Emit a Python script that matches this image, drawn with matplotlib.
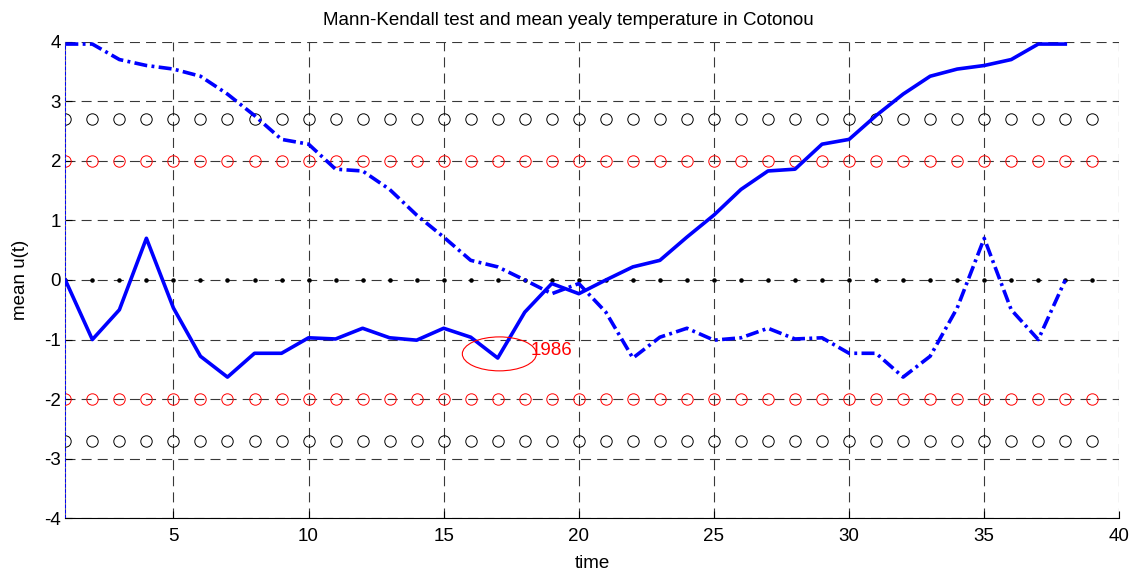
import matplotlib
matplotlib.use("Agg")
import matplotlib.pyplot as plt
from matplotlib.patches import Ellipse
import numpy as np

plt.rcParams['font.family'] = ['Liberation Sans', 'DejaVu Sans']
plt.rcParams['axes.unicode_minus'] = False

# Data
time = list(range(1, 39))
uf = [0.0, -1.0, -0.5, 0.70, -0.47, -1.28, -1.63, -1.23, -1.23, -0.97,
      -0.99, -0.81, -0.97, -1.01, -0.81, -0.96, -1.31, -0.54, -0.06, -0.23,
      0.0, 0.22, 0.33, 0.72, 1.09, 1.52, 1.83, 1.86, 2.28, 2.36,
      2.76, 3.12, 3.42, 3.54, 3.60, 3.70, 3.96, 3.96]
ub = [3.96, 3.96, 3.70, 3.60, 3.54, 3.42, 3.12, 2.76, 2.36, 2.28,
      1.86, 1.83, 1.52, 1.09, 0.72, 0.33, 0.22, 0.0, -0.23, -0.06,
      -0.54, -1.31, -0.96, -0.81, -1.01, -0.97, -0.81, -0.99, -0.97, -1.23,
      -1.23, -1.63, -1.28, -0.47, 0.70, -0.5, -1.0, 0.0]
ref_x = list(range(1, 40))
crit95 = 2.0
crit99 = 2.7
zero_level = 0.0
xticks = [5, 10, 15, 20, 25, 30, 35, 40]
yticks = [-4, -3, -2, -1, 0, 1, 2, 3, 4]
title = "Mann-Kendall test and mean yealy temperature in Cotonou"
annot_year = "1986"
annot_x, annot_y = 17.06, -1.24
annot_w, annot_h = 2.74, 0.57
annot_text_x, annot_text_y = 18.2, -1.19

FS = 13.5

fig = plt.figure(figsize=(11.38, 5.74), dpi=100)
ax = fig.add_axes([0.0574, 0.097, 0.9262, 0.8304])

ax.set_xlim(1, 40)
ax.set_ylim(-4, 4)
ax.set_xticks(xticks)
ax.set_yticks(yticks)
ax.grid(True, linestyle=(0, (9, 5.5)), color='#383838', linewidth=0.8)
ax.set_axisbelow(True)

n = len(ref_x)
ax.plot(ref_x, [crit99] * n, 'o', mfc='none', mec='black', ms=8.2, mew=0.7, zorder=3)
ax.plot(ref_x, [-crit99] * n, 'o', mfc='none', mec='black', ms=8.2, mew=0.7, zorder=3)
ax.plot(ref_x, [crit95] * n, 'o', mfc='none', mec='red', ms=8.2, mew=0.7, zorder=3)
ax.plot(ref_x, [-crit95] * n, 'o', mfc='none', mec='red', ms=8.2, mew=0.7, zorder=3)
ax.plot(ref_x, [zero_level] * n, '.', color='black', ms=4.5, zorder=3)

ax.plot([time[0], time[0]], [-4, ub[0]], color='blue', linestyle='--', linewidth=0.7, zorder=4)
ax.plot(time, uf, color='blue', linewidth=2.6, zorder=5)
ax.plot(time, ub, color='blue', linewidth=2.6, zorder=5,
        linestyle=(0, (3.6, 1.2, 0.8, 1.2)))

ax.add_patch(Ellipse((annot_x, annot_y), annot_w, annot_h, fill=False,
                     edgecolor='red', linewidth=0.8, zorder=6))
ax.text(annot_text_x, annot_text_y, annot_year, color='red', fontsize=FS,
        va='center', ha='left', zorder=6)

for s in ['top', 'right']:
    ax.spines[s].set_visible(False)
ax.spines['left'].set_color('#707070')
ax.spines['bottom'].set_color('black')
ax.tick_params(direction='in', length=5, labelsize=FS, colors='black')
ax.tick_params(axis='y', pad=3)
ax.tick_params(axis='x', pad=7)

ax.set_title(title, fontsize=FS, pad=12, x=0.477)
ax.set_xlabel("time", fontsize=FS, labelpad=7.5)
ax.set_ylabel("mean u(t)", fontsize=FS, labelpad=11)

fig.savefig("out.png", dpi=100)
